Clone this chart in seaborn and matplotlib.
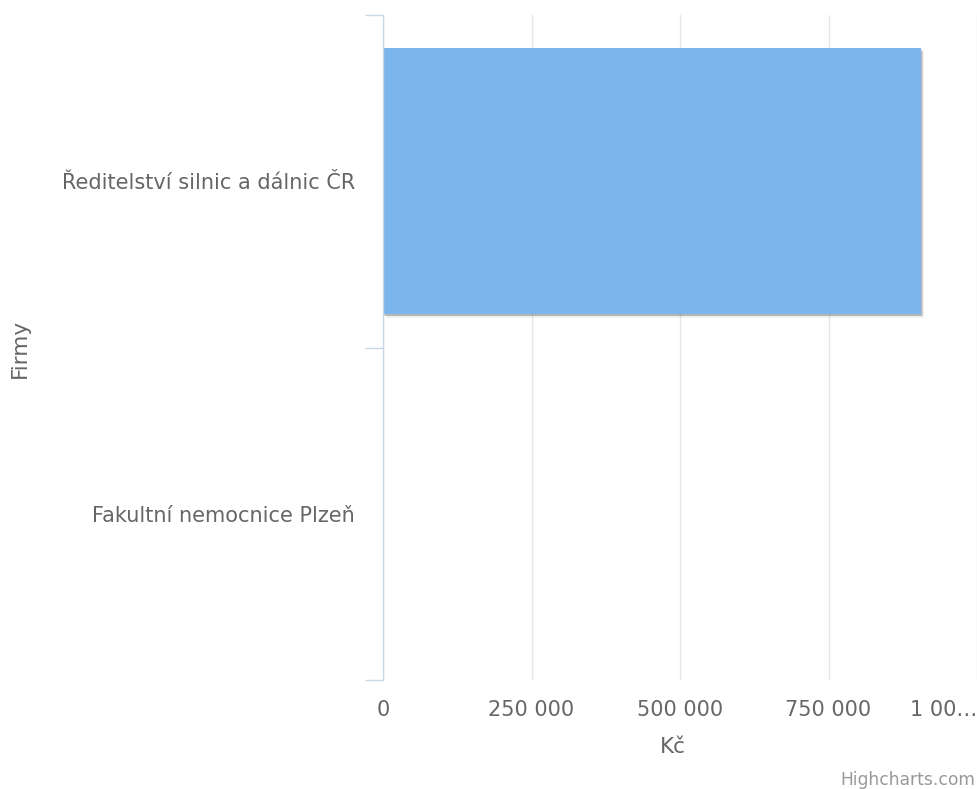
import matplotlib
matplotlib.use("Agg")
import matplotlib.pyplot as plt
import matplotlib.patheffects as pe
import seaborn as sns
import pandas as pd

companies = ["Ředitelství silnic a dálnic ČR", "Fakultní nemocnice Plzeň"]
values = [905000, 0]
x_ticks = [0, 250000, 500000, 750000, 1000000]
x_tick_labels = ["0", "250 000", "500 000", "750 000", "1 00…"]
x_title = "Kč"
y_title = "Firmy"
credit = "Highcharts.com"

sns.set_theme(style="white")
plt.rcParams['font.family'] = ['DejaVu Sans']

W, H = 978, 789
fig = plt.figure(figsize=(W / 100, H / 100), dpi=100)
left, right, top, bottom = 383, 977, 15, 680
ax = fig.add_axes([left / W, 1 - bottom / H, (right - left) / W, (bottom - top) / H])

df = pd.DataFrame({"company": companies, "value": values})
sns.barplot(data=df, x="value", y="company", orient="h", color="#7cb5ec",
            width=0.8, saturation=1, ax=ax, zorder=3)

for p in ax.patches:
    p.set_edgecolor("none")
    p.set_linewidth(0)
    if p.get_width() > 0:
        p.set_path_effects([
            pe.SimplePatchShadow(offset=(2.4, -2.4), shadow_rgbFace="black", alpha=0.06),
            pe.SimplePatchShadow(offset=(1.6, -1.6), shadow_rgbFace="black", alpha=0.10),
            pe.SimplePatchShadow(offset=(0.9, -0.9), shadow_rgbFace="black", alpha=0.15),
            pe.Normal()])

ax.set_xlim(0, 1000000)
ax.set_ylim(1.5, -0.5)

ax.set_xticks(x_ticks)
ax.set_xticklabels(x_tick_labels)
ax.tick_params(axis="x", length=0, pad=14.5, labelsize=15, labelcolor="#666666")
lbls = ax.get_xticklabels()
lbls[-1].set_ha("right")

ax.grid(axis="x", color="#e6e6e6", linewidth=1, zorder=0)
ax.grid(axis="y", visible=False)
ax.set_axisbelow(True)

ax.set_yticks([-0.5, 0.5, 1.5])
ax.set_yticklabels(["", "", ""])
ax.set_yticks([0, 1], minor=True)
ax.set_yticklabels(companies, minor=True)
ax.tick_params(axis="y", which="major", length=13, width=1, color="#ccd6eb", left=True)
ax.tick_params(axis="y", which="minor", length=0, pad=20, labelsize=15, labelcolor="#666666")

for s in ["top", "right", "bottom"]:
    ax.spines[s].set_visible(False)
ax.spines["left"].set_color("#ccd6eb")
ax.spines["left"].set_linewidth(1)
ax.spines["left"].set_zorder(5)

ax.set_xlabel("")
ax.set_ylabel("")
fig.text(673 / W, 1 - 747 / H, x_title, ha="center", va="center",
         fontsize=15.5, color="#666666")
fig.text(20 / W, 1 - 348 / H, y_title, ha="center", va="center", rotation=90,
         fontsize=15.5, color="#666666")
fig.text(975 / W, 1 - 780 / H, credit, ha="right", va="center", fontsize=12.3, color="#999999")

fig.savefig("out.png", dpi=100)
